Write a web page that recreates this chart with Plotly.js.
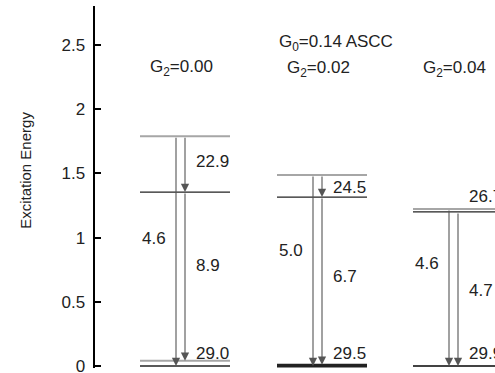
<!DOCTYPE html>
<html>
<head>
<meta charset="utf-8">
<script src="https://cdn.plot.ly/plotly-3.0.1.min.js"></script>
<style>
  html, body { margin: 0; padding: 0; background: #fff; }
  #chart { width: 495px; height: 373px; }
</style>
</head>
<body>
<div id="chart"></div>
<script>
// Level schemes for three G2 values (G0 = 0.14, ASCC)
const groupLabels = ['G<sub>2</sub>=0.00', 'G<sub>2</sub>=0.02', 'G<sub>2</sub>=0.04'];
const upper2Energy = [1.79, 1.487, 1.223];   // upper 2+ state
const excited0Energy = [1.355, 1.316, 1.200]; // excited 0+ state
const first2Energy = [0.04, 0.010, 0.0];      // first 2+ state
const ground0Energy = [0.0, 0.0, 0.0];        // ground 0+ state

// Transition strengths written beside the arrows
const upperToGround = [4.6, 5.0, 4.6];
const upperToExcited0 = [22.9, 24.5, 26.7];
const excited0ToFirst2 = [8.9, 6.7, 4.7];
const first2ToGround = [29.0, 29.5, 29.9];

// Horizontal layout of each scheme (x axis is hidden, units are arbitrary)
const groupStart = [45, 182, 318];
const levelWidth = 90;
const arrowOffsetA = 36;
const arrowOffsetB = 45;
const textOffsetRight = 54;
// Vertical placement of the strength labels
const labelYLeft = [0.99, 0.90, 0.80];
const labelYUpper = [1.59, 1.394, 1.324];
const labelYLower = [0.78, 0.70, 0.59];
const labelYGround = [0.10, 0.10, 0.10];

const FONT = 'Liberation Sans, Arial, Helvetica, sans-serif';
const GRAY = '#a6a6a6';
const DARK = '#222';
const ARROW = '#555';

const traces = [];
function level(i, e, color, width) {
  traces.push({
    type: 'scatter', mode: 'lines',
    x: [groupStart[i], groupStart[i] + levelWidth],
    y: [e, e],
    line: { color: color, width: width },
    hoverinfo: 'skip', showlegend: false
  });
}
for (let i = 0; i < groupLabels.length; i++) {
  level(i, upper2Energy[i], GRAY, 2);
  level(i, first2Energy[i], i === 1 ? DARK : GRAY, 2);
  level(i, excited0Energy[i], DARK, 1.3);
  level(i, ground0Energy[i], DARK, i === 1 ? 3 : 1.5);
}

const annotations = [];
function arrow(x, yFrom, yTo) {
  annotations.push({
    x: x, y: yTo, ax: x, ay: yFrom,
    xref: 'x', yref: 'y', axref: 'x', ayref: 'y',
    text: '', showarrow: true,
    arrowhead: 2, arrowsize: 1.5, arrowwidth: 1.1,
    arrowcolor: ARROW, standoff: 0, startstandoff: 0
  });
}
function label(x, y, txt, anchor, size) {
  annotations.push({
    x: x, y: y, xref: 'x', yref: 'y',
    text: txt, showarrow: false,
    xanchor: anchor || 'left', yanchor: 'middle',
    font: { family: FONT, size: size || 17, color: DARK }
  });
}

for (let i = 0; i < groupLabels.length; i++) {
  const xa = groupStart[i] + arrowOffsetA;
  const xb = groupStart[i] + arrowOffsetB;
  arrow(xa, upper2Energy[i], ground0Energy[i]);
  arrow(xb, upper2Energy[i], excited0Energy[i]);
  arrow(xb, excited0Energy[i], first2Energy[i]);

  label(groupStart[i], labelYLeft[i], upperToGround[i].toFixed(1));
  label(groupStart[i] + textOffsetRight, labelYUpper[i], upperToExcited0[i].toFixed(1));
  label(groupStart[i] + textOffsetRight, labelYLower[i], excited0ToFirst2[i].toFixed(1));
  label(groupStart[i] + textOffsetRight, labelYGround[i], first2ToGround[i].toFixed(1));

  label(groupStart[i] + 41, i === 0 ? 2.325 : 2.31, groupLabels[i], 'center');
}
label(groupStart[1], 2.515, 'G<sub>0</sub>=0.14 ASCC');

// Rotated axis caption
annotations.push({
  xref: 'paper', yref: 'y', x: -0.1725, y: 1.52,
  text: 'Excitation Energy', textangle: -90, showarrow: false,
  xanchor: 'center', yanchor: 'middle',
  font: { family: FONT, size: 15, color: DARK }
});

const layout = {
  width: 495, height: 373,
  margin: { l: 95, r: 0, t: 6, b: 5, pad: 0 },
  paper_bgcolor: '#fff', plot_bgcolor: '#fff',
  showlegend: false,
  xaxis: { visible: false, range: [0, 400], fixedrange: true },
  yaxis: {
    range: [-0.0156, 2.804],
    dtick: 0.5, tick0: 0,
    showgrid: false, zeroline: false,
    showline: true, linecolor: '#000', linewidth: 2.5,
    ticks: 'inside', ticklen: 6, tickwidth: 2, tickcolor: '#000',
    ticklabelstandoff: 4,
    ticklabeloverflow: 'allow',
    tickfont: { family: FONT, size: 17, color: DARK },
    fixedrange: true
  },
  annotations: annotations
};

Plotly.newPlot('chart', traces, layout, { displayModeBar: false, staticPlot: true });
</script>
</body>
</html>
